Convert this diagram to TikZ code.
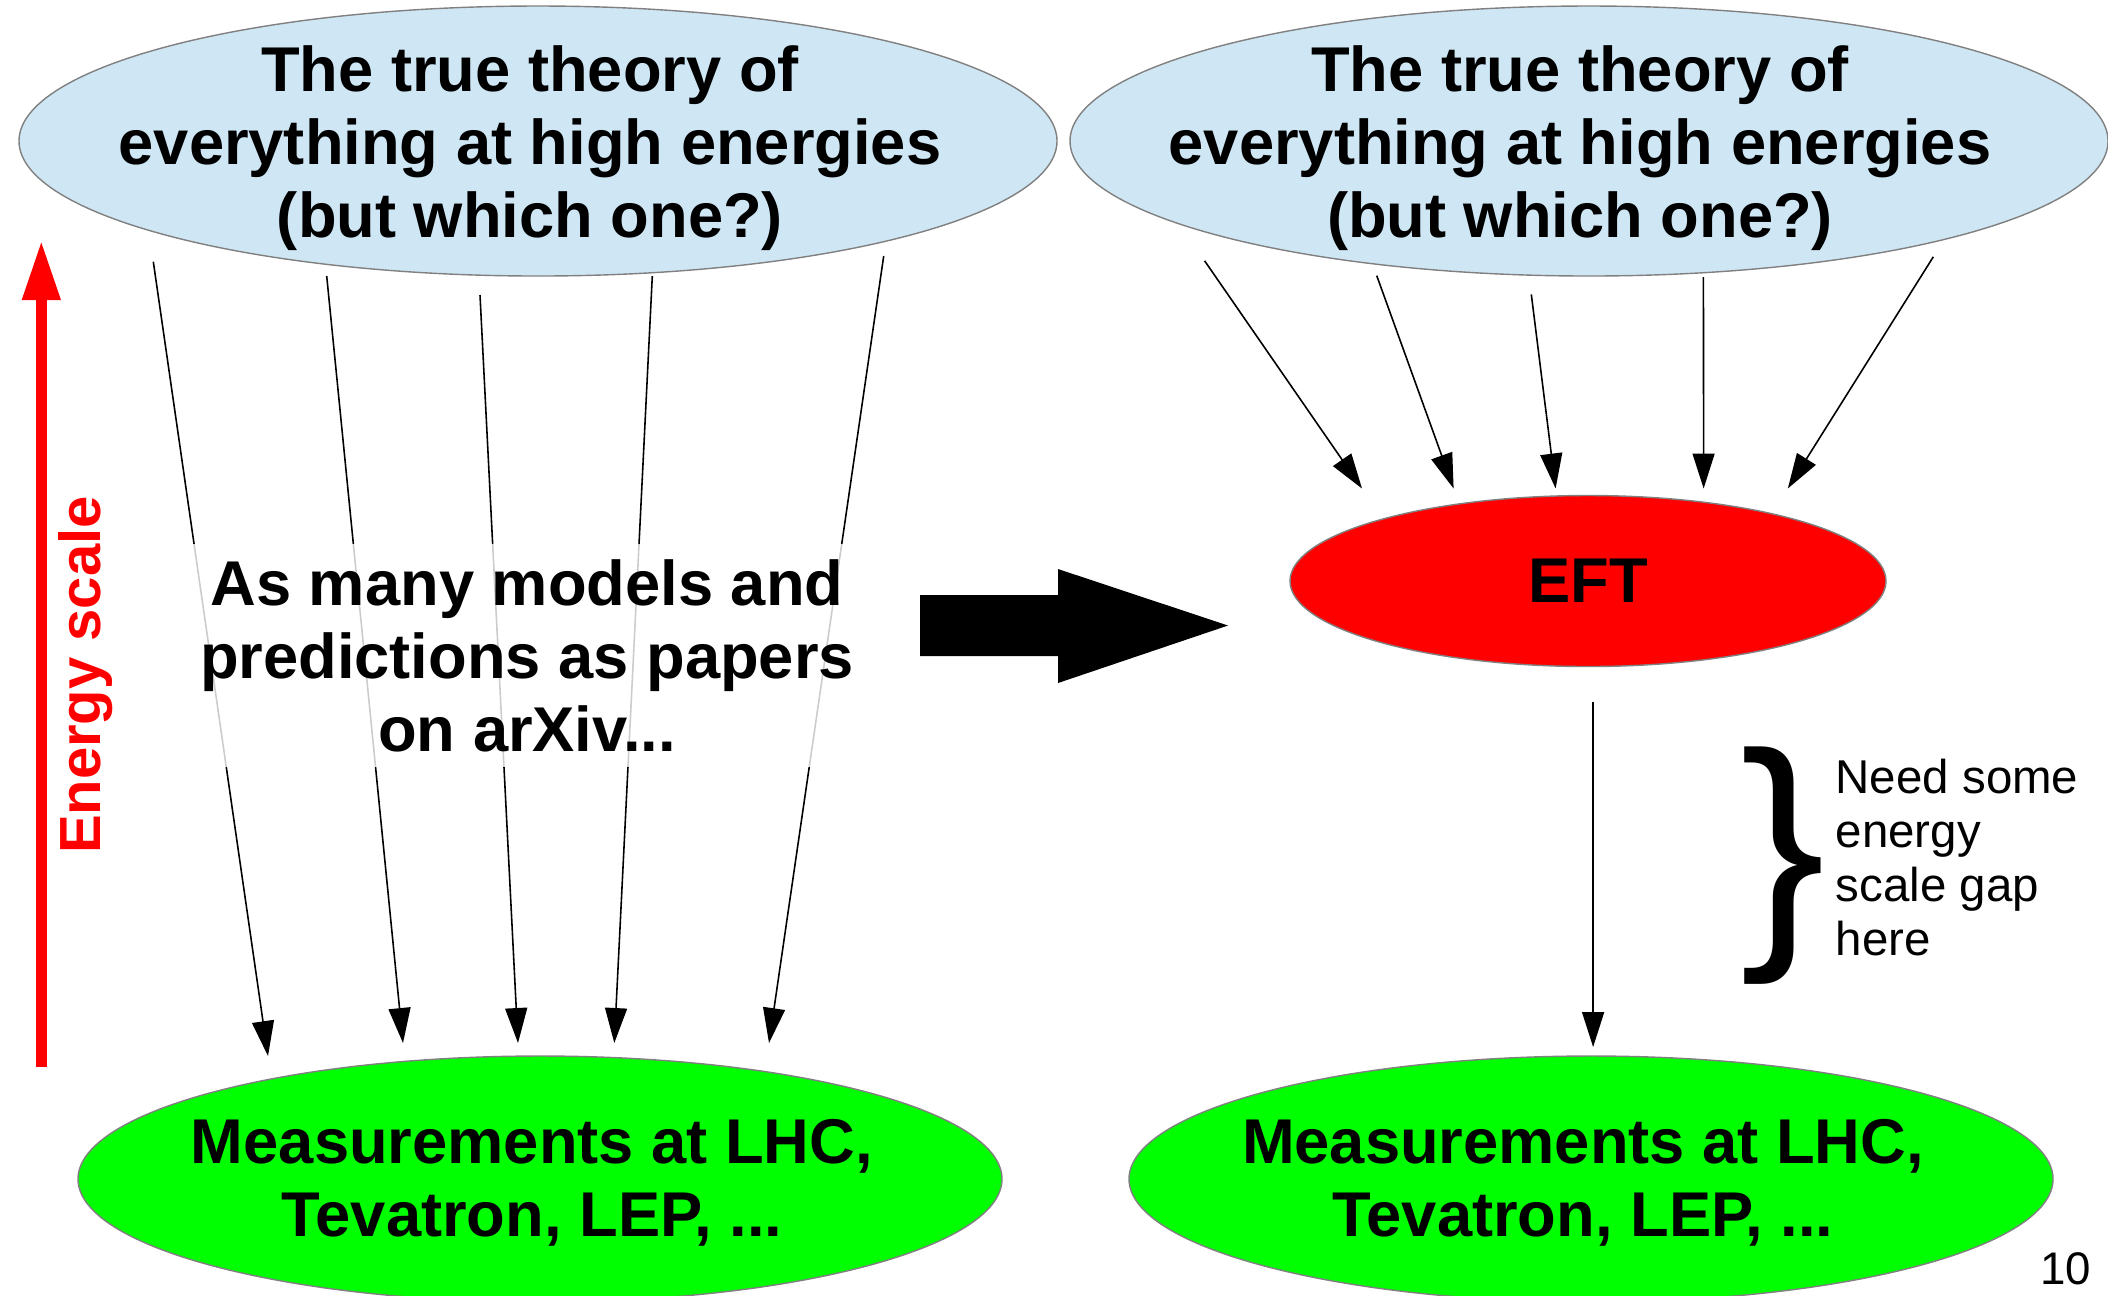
\documentclass[tikz,border=0pt]{standalone}
\usepackage{fontspec}
\setmainfont{Liberation Sans}
\usetikzlibrary{arrows.meta,positioning,shapes.geometric}
\definecolor{theoryblue}{HTML}{CFE7F5}
\definecolor{measgreen}{HTML}{00FF00}
\definecolor{eftred}{HTML}{FF0000}
\definecolor{rimgray}{HTML}{808080}

\begin{document}
\begin{tikzpicture}[
  biglabel/.style={align=center, inner sep=0pt, font=\fontsize{18}{20.8}\selectfont\bfseries},
  theory/.style={ellipse, draw=rimgray, line width=0.4pt, fill=theoryblue, minimum width=10.38cm, minimum height=2.70cm},
  measure/.style={ellipse, draw=rimgray, line width=0.4pt, fill=measgreen, minimum width=9.24cm, minimum height=2.46cm},
  eftnode/.style={ellipse, draw=rimgray, line width=0.4pt, fill=eftred, minimum width=5.96cm, minimum height=1.71cm, inner sep=0pt, font=\fontsize{18}{20.8}\selectfont\bfseries},
  paperbox/.style={biglabel, fill=white, fill opacity=0.8, text opacity=1, inner xsep=0.1cm, inner ysep=0.15cm},
  thinarr/.style={-{Triangle[length=0.35cm, width=0.22cm]}, line width=0.45pt}
]
  \useasboundingbox (0,0) rectangle (21.08,-12.95);

  % left side: many models
  \node[theory] (thyL) at (5.38,-1.41) {};
  \node[biglabel] (thyLtxt) at ([xshift=-0.08cm, yshift=-0.07cm]thyL.center) {The true theory of\\everything at high energies\\(but which one?)};
  \node[measure] (measL) at (5.40,-11.79) {};
  \node[biglabel] (measLtxt) at ([xshift=-0.08cm, yshift=-0.04cm]measL.center) {Measurements at LHC,\\Tevatron, LEP, ...};

  \coordinate (fromL1) at (1.533,-2.617); \coordinate (toL1) at (2.680,-10.56);
  \coordinate (fromL2) at (3.267,-2.760); \coordinate (toL2) at (4.030,-10.43);
  \coordinate (fromL3) at (4.800,-2.950); \coordinate (toL3) at (5.180,-10.43);
  \coordinate (fromL4) at (6.523,-2.760); \coordinate (toL4) at (6.143,-10.43);
  \coordinate (fromL5) at (8.837,-2.560); \coordinate (toL5) at (7.690,-10.43);

  \draw[thinarr] (fromL1) -- (toL1);
  \draw[thinarr] (fromL2) -- (toL2);
  \draw[thinarr] (fromL3) -- (toL3);
  \draw[thinarr] (fromL4) -- (toL4);
  \draw[thinarr] (fromL5) -- (toL5);

  \node[paperbox] (papers) at (5.27,-6.555) {As many models and\\predictions as papers\\on arXiv...};

  % energy axis
  \fill[eftred] (0.357,-10.67) rectangle (0.467,-2.98);
  \fill[eftred] (0.217,-3.00) -- (0.413,-2.425) -- (0.610,-3.00) -- cycle;
  \node[rotate=90, text=eftred, inner sep=0pt, font=\fontsize{16.5}{19}\selectfont\bfseries] (escale) at (0.86,-6.75) {Energy scale};

  % big arrow
  \fill (9.20,-5.95) -- (10.58,-5.95) -- (10.58,-5.69) -- (12.28,-6.255) -- (10.58,-6.83) -- (10.58,-6.56) -- (9.20,-6.56) -- cycle;

  % right side: EFT in between
  \node[theory] (thyR) at (15.89,-1.41) {};
  \node[biglabel] (thyRtxt) at ([xshift=-0.09cm, yshift=-0.07cm]thyR.center) {The true theory of\\everything at high energies\\(but which one?)};
  \node[eftnode] (eft) at (15.88,-5.81) {EFT};
  \node[measure] (measR) at (15.91,-11.79) {};
  \node[biglabel] (measRtxt) at ([xshift=-0.08cm, yshift=-0.04cm]measR.center) {Measurements at LHC,\\Tevatron, LEP, ...};

  \coordinate (fromR1) at (12.046,-2.608); \coordinate (toR1) at (13.62,-4.885);
  \coordinate (fromR2) at (13.767,-2.756); \coordinate (toR2) at (14.536,-4.885);
  \coordinate (fromR3) at (15.313,-2.944); \coordinate (toR3) at (15.556,-4.885);
  \coordinate (fromR4) at (17.034,-2.770); \coordinate (toR4) at (17.036,-4.885);
  \coordinate (fromR5) at (19.333,-2.568); \coordinate (toR5) at (17.878,-4.885);
  \coordinate (fromE) at (15.931,-7.018); \coordinate (toE) at (15.931,-10.47);

  \draw[thinarr] (fromR1) -- (toR1);
  \draw[thinarr] (fromR2) -- (toR2);
  \draw[thinarr] (fromR3) -- (toR3);
  \draw[thinarr] (fromR4) -- (toR4);
  \draw[thinarr] (fromR5) -- (toR5);
  \draw[thinarr] (fromE) -- (toE);

  % gap note
  \node[inner sep=0pt, font=\fontsize{72.5}{72}\selectfont] (gapbrace) at (17.83,-8.66) {\}};
  \node[anchor=west, align=left, inner sep=0pt, font=\fontsize{13.5}{15.3}\selectfont] (gapnote) at (18.35,-8.575) {Need some\\energy\\scale gap\\here};

  \node[anchor=base east, inner sep=0pt, font=\fontsize{13}{15}\selectfont] (pageno) at (20.92,-12.84) {10};
\end{tikzpicture}
\end{document}
